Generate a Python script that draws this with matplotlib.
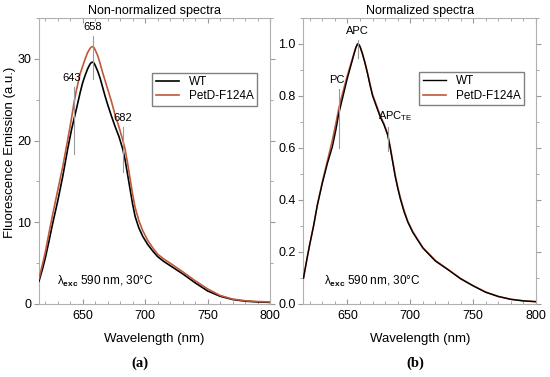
import matplotlib.pyplot as plt
from matplotlib.ticker import MultipleLocator

plt.rcParams['font.family'] = ['Liberation Sans', 'DejaVu Sans']
plt.rcParams['mathtext.fontset'] = 'custom'
plt.rcParams['mathtext.rm'] = 'Liberation Sans'
plt.rcParams['mathtext.bf'] = 'Liberation Sans:bold'
plt.rcParams['mathtext.it'] = 'Liberation Sans:italic'

# wavelength grid (nm)
wl = [615, 618, 620, 623, 626, 630, 634, 638, 641, 643, 645, 648, 650, 652, 654, 656, 657, 658,
      659, 660, 662, 664, 666, 668, 670, 673, 676, 679, 682, 684, 686, 688, 690, 692, 695, 698,
      702, 706, 710, 715, 720, 730, 740, 750, 760, 770, 780, 790, 800]

# (a) non-normalized spectra
wt_raw = [2.8, 4.4, 5.6, 7.7, 9.9, 12.6, 15.6, 19.0, 21.3, 22.6, 23.9, 25.9, 27.1, 28.0, 28.8, 29.4, 29.55, 29.6,
          29.5, 29.2, 28.5, 27.6, 26.5, 25.4, 24.4, 23.0, 21.7, 20.5, 19.0, 17.6, 15.8, 14.0, 12.2, 10.7, 9.3, 8.3,
          7.3, 6.5, 5.8, 5.2, 4.7, 3.7, 2.6, 1.6, 0.95, 0.55, 0.35, 0.25, 0.2]
mut_raw = [3.1, 5.0, 6.3, 8.7, 11.0, 13.9, 16.8, 20.1, 22.7, 24.6, 26.2, 28.2, 29.1, 30.0, 30.8, 31.3, 31.45, 31.5,
           31.4, 31.1, 30.4, 29.4, 28.3, 27.3, 26.3, 24.8, 23.1, 21.7, 20.1, 18.9, 17.2, 15.3, 13.4, 11.8, 10.2, 9.0,
           7.8, 6.9, 6.1, 5.5, 5.0, 3.95, 2.85, 1.85, 1.05, 0.6, 0.4, 0.3, 0.25]

# (b) normalized spectra
wt_norm = [0.10, 0.18, 0.23, 0.30, 0.38, 0.465, 0.54, 0.605, 0.675, 0.73, 0.77, 0.83, 0.87, 0.905, 0.94, 0.975, 0.99, 1.0,
           0.998, 0.99, 0.96, 0.925, 0.885, 0.84, 0.80, 0.76, 0.72, 0.69, 0.65, 0.60, 0.545, 0.49, 0.445, 0.405, 0.355, 0.315,
           0.275, 0.245, 0.215, 0.19, 0.165, 0.132, 0.097, 0.07, 0.045, 0.029, 0.018, 0.012, 0.009]
mut_norm = [0.10, 0.18, 0.23, 0.30, 0.38, 0.47, 0.55, 0.63, 0.70, 0.75, 0.79, 0.845, 0.88, 0.912, 0.945, 0.978, 0.99, 1.0,
            0.998, 0.99, 0.962, 0.928, 0.888, 0.845, 0.805, 0.765, 0.725, 0.693, 0.652, 0.605, 0.55, 0.495, 0.45, 0.41, 0.36, 0.318,
            0.278, 0.247, 0.217, 0.192, 0.167, 0.133, 0.098, 0.07, 0.046, 0.029, 0.018, 0.012, 0.009]

# peak markers: (wavelength, line bottom, line top, label, label x)
marks_a = [(643, 18.3, 26.5, '643', 641), (658, 27.5, 32.8, '658', 658), (682, 16.1, 21.7, '682', 682)]
marks_b = [(643, 0.60, 0.827, 'PC', 641.5), (658, 0.946, 1.015, 'APC', 658),
           (682, 0.59, 0.68, r'APC$_\mathregular{TE}$', 688)]

c_wt = 'black'
c_mut = '#c0583a'
grey = '#9a9a9a'
exc_text = 'λ$_{\\mathbf{exc}}$ 590 nm, 30°C'


def style_axes(ax, ymax, ymaj, ymin):
    ax.set_xlim(615, 800)
    ax.set_ylim(0, ymax)
    ax.xaxis.set_major_locator(MultipleLocator(50))
    ax.xaxis.set_minor_locator(MultipleLocator(10))
    ax.yaxis.set_major_locator(MultipleLocator(ymaj))
    ax.yaxis.set_minor_locator(MultipleLocator(ymin))
    for s in ax.spines.values():
        s.set_color('#b0b0b0')
        s.set_linewidth(0.8)
    ax.tick_params(axis='x', which='both', direction='in', top=True, color='#999999',
                   labelsize=9, pad=4)
    ax.tick_params(axis='y', which='both', direction='out', right=True, color='#999999',
                   labelsize=9, pad=2)
    ax.tick_params(which='major', length=3.5)
    ax.tick_params(which='minor', length=2)
    ax.set_xlabel('Wavelength (nm)', fontsize=9.5)
    ax.xaxis.set_label_coords(0.5, -0.1)


fig = plt.figure(figsize=(5.5, 3.77), dpi=100)
ax1 = fig.add_axes([39 / 550, 73 / 377, 231 / 550, 286 / 377])
ax2 = fig.add_axes([303.5 / 550, 73 / 377, 232.5 / 550, 286 / 377])

ax1.plot(wl, wt_raw, color=c_wt, lw=1.2, label='WT', zorder=3)
ax1.plot(wl, mut_raw, color=c_mut, lw=1.2, label='PetD-F124A', zorder=3)
for x, y0, y1, txt, tx in marks_a:
    ax1.plot([x, x], [y0, y1], color=grey, lw=0.8, zorder=4)
    ax1.text(tx, y1 + 0.5, txt, ha='center', va='bottom', fontsize=8)
style_axes(ax1, 35, 10, 5)
ax1.set_title('Non-normalized spectra', fontsize=9, pad=3)
ax1.set_ylabel('Fluorescence Emission (a.u.)', fontsize=9.5)
ax1.yaxis.set_label_coords(-0.1, 0.53)
ax1.text(0.078, 0.08, exc_text, transform=ax1.transAxes, fontsize=8.5, va='center')
ax1.legend(loc='upper right', bbox_to_anchor=(0.97, 0.83), fontsize=8.5, fancybox=False,
           edgecolor='#808080', framealpha=1, handlelength=2.0, borderpad=0.3, labelspacing=0.2)

ax2.plot(wl, mut_norm, color=c_mut, lw=1.2, label='PetD-F124A', zorder=3)
ax2.plot(wl, wt_norm, color=c_wt, lw=1.0, label='WT', zorder=3)
for x, y0, y1, txt, tx in marks_b:
    ax2.plot([x, x], [y0, y1], color=grey, lw=0.8, zorder=4)
    ax2.text(tx, y1 + 0.015, txt, ha='center', va='bottom', fontsize=8)
style_axes(ax2, 1.1, 0.2, 0.1)
ax2.yaxis.set_major_formatter(plt.FuncFormatter(lambda v, p: f'{v:.1f}'))
ax2.set_title('Normalized spectra', fontsize=9, pad=3)
ax2.text(0.088, 0.08, exc_text, transform=ax2.transAxes, fontsize=8.5, va='center')
h, l = ax2.get_legend_handles_labels()
ax2.legend(h[::-1], l[::-1], loc='upper right', bbox_to_anchor=(0.974, 0.832), fontsize=8.5,
           fancybox=False, edgecolor='#808080', framealpha=1, handlelength=2.0, borderpad=0.3,
           labelspacing=0.2)

fig.text(140 / 550, 1 - 363 / 377, '(a)', ha='center', va='center', fontsize=10.5,
         family='Liberation Serif', weight='bold')
fig.text(415 / 550, 1 - 363 / 377, '(b)', ha='center', va='center', fontsize=10.5,
         family='Liberation Serif', weight='bold')

fig.savefig('out.png', dpi=100)
